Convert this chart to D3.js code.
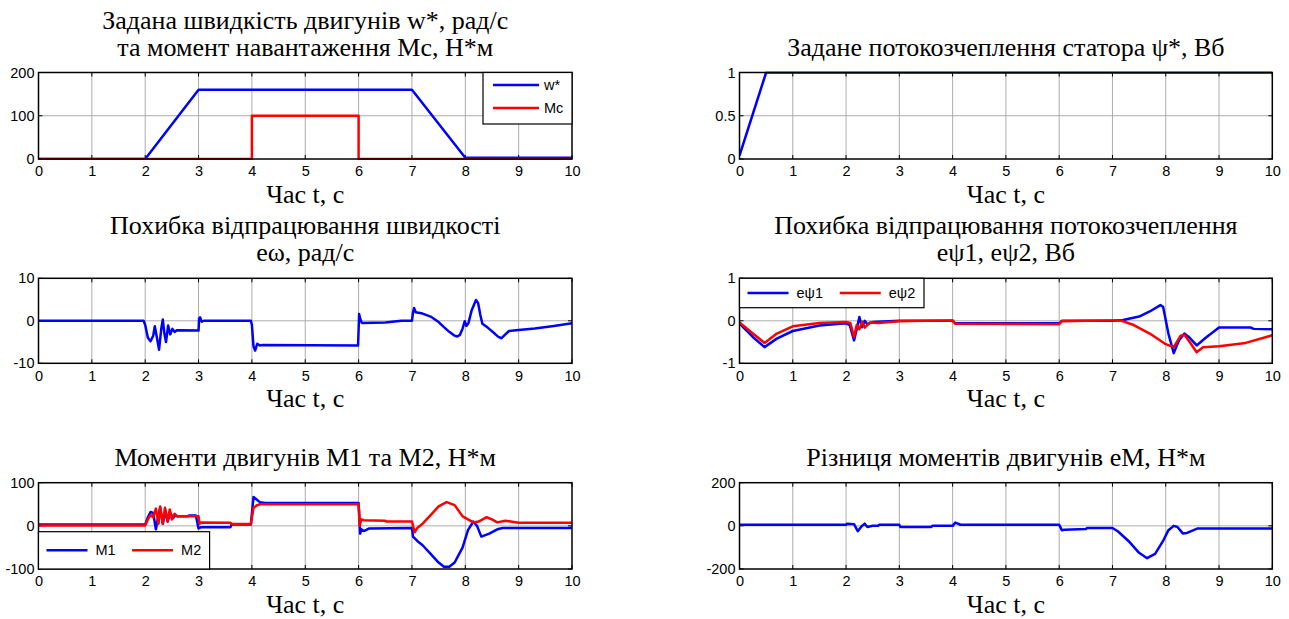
<!DOCTYPE html>
<html><head><meta charset="utf-8">
<script src="https://cdn.jsdelivr.net/npm/d3@7"></script>
<style>
html,body{margin:0;padding:0;background:#fff;}
svg{display:block;}
</style>
</head><body>
<svg id="chart" width="1289" height="619"></svg>
<script>
// ---------------- DATA ----------------
const timeTicks = [0,1,2,3,4,5,6,7,8,9,10];

const wStar = [[0,0],[2,0],[3,160],[7,160],[8,3],[10,3]];
const mLoad = [[0,0],[4,0],[4,100],[6,100],[6,0],[10,0]];

const psiStar = [[0,0.04],[0.5,1],[10,1]];

const eOmega = [[0,0],[1.97,0],[2.0,-1],[2.05,-4],[2.1,-4.8],[2.15,-3.5],[2.18,-1.3],[2.22,-4],[2.26,-6.8],[2.3,-2],[2.33,0.3],[2.36,-3],[2.39,-5],[2.43,-1.1],[2.47,-3.2],[2.51,-1.9],[2.55,-2.6],[2.6,-2.2],[3.0,-2.3],[3.01,0.5],[3.03,0.8],[3.06,-0.2],[3.1,0],[3.98,0],[4.0,-1],[4.03,-6],[4.06,-7],[4.1,-5.4],[4.15,-5.8],[4.2,-5.7],[5.99,-5.8],[6.01,1.6],[6.03,0.5],[6.06,-0.5],[6.5,-0.4],[6.8,0],[7.0,0],[7.02,2],[7.04,3],[7.07,2],[7.2,1.7],[7.35,1],[7.5,-0.3],[7.6,-1.5],[7.7,-2.6],[7.8,-3.5],[7.85,-3.7],[7.9,-3.3],[7.95,-1.8],[7.99,-0.1],[8.02,-1.2],[8.06,-0.5],[8.12,2.5],[8.2,4.9],[8.24,4.2],[8.28,1.5],[8.32,-0.7],[8.42,-1.6],[8.55,-3],[8.62,-3.8],[8.68,-4.1],[8.75,-3.2],[8.82,-2.4],[8.95,-2.2],[9.3,-1.8],[9.66,-1.2],[10,-0.6]];

const ePsi1 = [[0,-0.06],[0.25,-0.38],[0.47,-0.62],[0.7,-0.42],[1.0,-0.24],[1.5,-0.11],[2.0,-0.06],[2.07,-0.1],[2.15,-0.46],[2.2,-0.2],[2.25,0.09],[2.3,-0.15],[2.35,0],[2.4,-0.08],[2.5,-0.03],[3.0,0],[4.0,0],[4.05,-0.06],[6.0,-0.06],[6.05,0],[7.0,0],[7.2,0.02],[7.5,0.1],[7.7,0.22],[7.9,0.37],[7.95,0.33],[8.05,-0.3],[8.15,-0.76],[8.25,-0.46],[8.35,-0.3],[8.45,-0.4],[8.58,-0.58],[8.75,-0.4],[9.0,-0.16],[9.6,-0.16],[9.65,-0.19],[10,-0.2]];
const ePsi2 = [[0,-0.04],[0.25,-0.3],[0.47,-0.52],[0.7,-0.3],[1.0,-0.13],[1.5,-0.05],[2.0,-0.03],[2.08,-0.05],[2.15,-0.38],[2.2,-0.1],[2.25,-0.2],[2.3,-0.02],[2.35,-0.16],[2.45,-0.04],[2.6,-0.05],[3.0,-0.01],[4.0,0.01],[4.05,-0.07],[6.0,-0.08],[6.05,-0.01],[7.0,0.01],[7.15,0.01],[7.4,-0.1],[7.7,-0.3],[8.0,-0.55],[8.15,-0.62],[8.28,-0.35],[8.35,-0.33],[8.45,-0.5],[8.58,-0.74],[8.7,-0.62],[9.0,-0.6],[9.5,-0.52],[10,-0.34]];

const m1 = [[0,3],[2.0,3],[2.05,20],[2.1,32],[2.15,30],[2.2,-8],[2.25,25],[2.28,42],[2.33,5],[2.38,35],[2.42,10],[2.47,30],[2.52,18],[2.57,25],[2.6,22],[2.8,22],[2.82,24],[2.95,24],[3.0,-6],[3.05,-3],[3.6,-3],[3.62,3],[3.98,3],[4.03,67],[4.1,60],[4.15,55],[4.25,53],[6.0,53],[6.03,-18],[6.05,-8],[6.1,-12],[6.2,-6],[7.0,-5],[7.02,-25],[7.1,-35],[7.2,-45],[7.35,-65],[7.5,-85],[7.6,-95],[7.7,-95],[7.8,-85],[7.95,-50],[8.05,-10],[8.15,10],[8.22,0],[8.3,-25],[8.45,-18],[8.6,-8],[8.7,-5],[10,-5]];
const m2 = [[0,1],[2.0,1],[2.05,15],[2.1,25],[2.15,20],[2.2,40],[2.25,5],[2.28,45],[2.33,5],[2.37,42],[2.42,10],[2.46,38],[2.5,15],[2.55,28],[2.6,22],[3.0,22],[3.02,5],[3.05,8],[3.6,7],[3.62,4],[3.98,4],[4.03,42],[4.1,48],[4.15,50],[6.0,50],[6.02,0],[6.05,15],[6.1,13],[6.5,12],[6.52,10],[7.0,10],[7.05,-15],[7.1,-5],[7.2,5],[7.35,25],[7.5,45],[7.65,55],[7.8,48],[7.95,22],[8.05,15],[8.15,8],[8.25,10],[8.4,20],[8.5,15],[8.6,8],[8.75,12],[8.85,10],[9.0,7],[10,7]];

const eM = [[0,5],[2.0,5],[2.02,10],[2.15,8],[2.22,-25],[2.3,0],[2.35,10],[2.4,-5],[2.5,0],[2.6,0],[2.62,5],[3.0,5],[3.02,-5],[3.6,-5],[3.62,0],[4.0,0],[4.05,15],[4.15,5],[6.0,5],[6.05,-20],[6.1,-18],[6.5,-15],[6.52,-10],[7.0,-10],[7.1,-25],[7.3,-70],[7.5,-125],[7.65,-150],[7.8,-130],[7.95,-70],[8.05,-20],[8.15,0],[8.22,-5],[8.32,-35],[8.4,-33],[8.5,-22],[8.6,-12],[10,-12]];

const yTicks1 = [0,100,200];
const yTicks2 = [0,0.5,1];
const yTicks3 = [-10,0,10];
const yTicks4 = [-1,0,1];
const yTicks5 = [-100,0,100];
const yTicks6 = [-200,0,200];

const titles1 = ["Задана швидкість двигунів w*, рад/с","та момент навантаження Mc, Н*м"];
const titles2 = ["Задане потокозчеплення статора ψ*, Вб"];
const titles3 = ["Похибка відпрацювання швидкості","eω, рад/с"];
const titles4 = ["Похибка відпрацювання потокозчеплення","eψ1, eψ2, Вб"];
const titles5 = ["Моменти двигунів M1 та M2, Н*м"];
const titles6 = ["Різниця моментів двигунів eM, Н*м"];
const xLabel = "Час t, с";

// ---------------- DRAW ----------------
const BLUE = "#0000ff", RED = "#ff0000";
const svg = d3.select("#chart");
const serif = "'Liberation Serif','Times New Roman',serif";
const sans = "'Liberation Sans',Arial,sans-serif";

const L = {x0: 38.5, x1: 572}, R = {x0: 739.5, x1: 1272.3};
const rows = [{y0: 72.5, y1: 159}, {y0: 278.3, y1: 363.3}, {y0: 482.7, y1: 569}];

const panels = [
  {col:L,row:rows[0],dom:[0,200],ticks:yTicks1,titles:titles1,series:[{d:wStar,c:BLUE},{d:mLoad,c:RED}],
   legend:{type:"v",x0:483,y0:72.5,x1:572,y1:124,items:[{t:"w*",c:BLUE},{t:"Mc",c:RED}]}},
  {col:R,row:rows[0],dom:[0,1],ticks:yTicks2,titles:titles2,series:[{d:psiStar,c:BLUE}]},
  {col:L,row:rows[1],dom:[-10,10],ticks:yTicks3,titles:titles3,series:[{d:eOmega,c:BLUE}]},
  {col:R,row:rows[1],dom:[-1,1],ticks:yTicks4,titles:titles4,series:[{d:ePsi1,c:BLUE},{d:ePsi2,c:RED}],
   legend:{type:"h",x0:739.5,y0:278.3,x1:924,y1:307.7,items:[{t:"eψ1",c:BLUE},{t:"eψ2",c:RED}]}},
  {col:L,row:rows[2],dom:[-100,100],ticks:yTicks5,titles:titles5,series:[{d:m1,c:BLUE},{d:m2,c:RED}],
   legend:{type:"h",x0:38.5,y0:531.7,x1:209.6,y1:569,items:[{t:"M1",c:BLUE},{t:"M2",c:RED}]}},
  {col:R,row:rows[2],dom:[-200,200],ticks:yTicks6,titles:titles6,series:[{d:eM,c:BLUE}]}
];

panels.forEach((p,i)=>{
  const x = d3.scaleLinear().domain([0,10]).range([p.col.x0,p.col.x1]);
  const y = d3.scaleLinear().domain(p.dom).range([p.row.y1,p.row.y0]);
  const g = svg.append("g");
  const W = p.col.x1-p.col.x0, H = p.row.y1-p.row.y0;

  // grid
  g.append("g").selectAll("line").data(timeTicks.slice(1,-1)).join("line")
    .attr("x1",d=>x(d)).attr("x2",d=>x(d)).attr("y1",p.row.y0).attr("y2",p.row.y1)
    .attr("stroke","#adadad").attr("stroke-width",1);
  g.append("g").selectAll("line").data(p.ticks.slice(1,-1)).join("line")
    .attr("x1",p.col.x0).attr("x2",p.col.x1).attr("y1",d=>y(d)).attr("y2",d=>y(d))
    .attr("stroke","#adadad").attr("stroke-width",1);

  // axes via d3
  const xa = d3.axisBottom(x).tickValues(timeTicks).tickSize(0).tickPadding(7).tickFormat(d3.format("d"));
  const gx = g.append("g").attr("transform",`translate(0,${p.row.y1})`).call(xa);
  gx.select(".domain").remove();
  gx.selectAll("text").attr("font-family",sans).attr("font-size",14.5).attr("fill","#000");
  const ya = d3.axisLeft(y).tickValues(p.ticks).tickSize(0).tickPadding(4).tickFormat(d=>String(d));
  const gy = g.append("g").attr("transform",`translate(${p.col.x0},0)`).call(ya);
  gy.select(".domain").remove();
  gy.selectAll("text").attr("font-family",sans).attr("font-size",14.5).attr("fill","#000");

  // inner ticks
  const tk = g.append("g").attr("stroke","#000").attr("stroke-width",1);
  timeTicks.forEach(t=>{
    tk.append("line").attr("x1",x(t)).attr("x2",x(t)).attr("y1",p.row.y1).attr("y2",p.row.y1-4);
    tk.append("line").attr("x1",x(t)).attr("x2",x(t)).attr("y1",p.row.y0).attr("y2",p.row.y0+4);
  });
  p.ticks.forEach(t=>{
    tk.append("line").attr("x1",p.col.x0).attr("x2",p.col.x0+4).attr("y1",y(t)).attr("y2",y(t));
    tk.append("line").attr("x1",p.col.x1).attr("x2",p.col.x1-4).attr("y1",y(t)).attr("y2",y(t));
  });

  // clip
  const cid = "clip"+i;
  svg.append("clipPath").attr("id",cid).append("rect")
    .attr("x",p.col.x0).attr("y",p.row.y0-1).attr("width",W).attr("height",H+2);
  const line = d3.line().x(d=>x(d[0])).y(d=>y(d[1]));
  p.series.forEach(s=>{
    g.append("path").attr("d",line(s.d)).attr("fill","none").attr("stroke",s.c)
      .attr("stroke-width",2.5).attr("stroke-linejoin","round").attr("clip-path",`url(#${cid})`);
  });

  // box
  g.append("rect").attr("x",p.col.x0).attr("y",p.row.y0).attr("width",W).attr("height",H)
    .attr("fill","none").attr("stroke","#000").attr("stroke-width",1.5);

  // titles
  const cx = (p.col.x0+p.col.x1)/2;
  const n = p.titles.length;
  p.titles.forEach((t,k)=>{
    g.append("text").attr("x",cx).attr("y",p.row.y0-17-(n-1-k)*27)
      .attr("text-anchor","middle").attr("font-family",serif).attr("font-size",26).attr("fill","#000").text(t);
  });
  g.append("text").attr("x",cx).attr("y",p.row.y1+44).attr("text-anchor","middle")
    .attr("font-family",serif).attr("font-size",26).attr("fill","#000").text(xLabel);

  // legend
  if(p.legend){
    const lg = p.legend;
    const lgG = g.append("g");
    lgG.append("rect").attr("x",lg.x0).attr("y",lg.y0).attr("width",lg.x1-lg.x0).attr("height",lg.y1-lg.y0)
      .attr("fill","#fff").attr("stroke","#000").attr("stroke-width",1.2);
    if(lg.type==="v"){
      lg.items.forEach((it,k)=>{
        const yy = lg.y0+12.5+k*23;
        lgG.append("line").attr("x1",lg.x0+10).attr("x2",lg.x0+56).attr("y1",yy).attr("y2",yy)
          .attr("stroke",it.c).attr("stroke-width",2.5);
        lgG.append("text").attr("x",lg.x0+61).attr("y",yy).attr("dy","0.35em")
          .attr("font-family",sans).attr("font-size",14.5).text(it.t);
      });
    } else {
      const yy = (lg.y0+lg.y1)/2;
      const w = (lg.x1-lg.x0)/2;
      lg.items.forEach((it,k)=>{
        const bx = lg.x0+k*w;
        lgG.append("line").attr("x1",bx+8).attr("x2",bx+49).attr("y1",yy).attr("y2",yy)
          .attr("stroke",it.c).attr("stroke-width",2.5);
        lgG.append("text").attr("x",bx+57).attr("y",yy).attr("dy","0.35em")
          .attr("font-family",sans).attr("font-size",14.5).text(it.t);
      });
    }
  }
});
</script>
</body></html>
